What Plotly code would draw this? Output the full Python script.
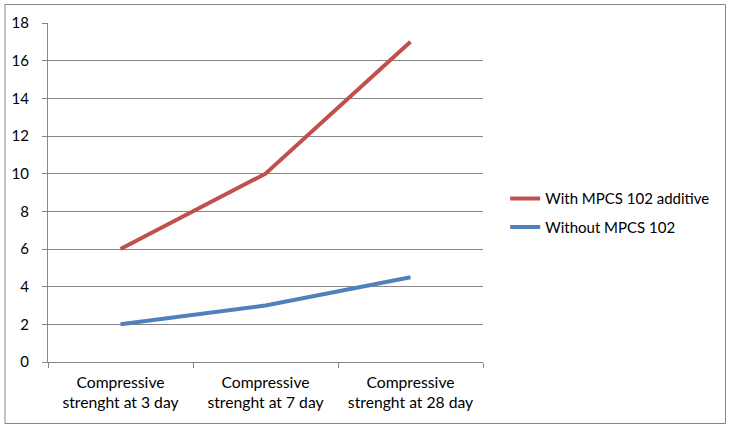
import plotly.graph_objects as go

categories = ["Compressive<br>strenght at 3 day",
              "Compressive<br>strenght at 7 day",
              "Compressive<br>strenght at 28 day"]
with_additive = [6, 10, 17]
without_additive = [2, 3, 4.5]
series_names = ["With MPCS 102 additive", "Without MPCS 102"]

GRID = "#868686"
FONT = dict(family="Lato, Liberation Sans, sans-serif", size=15, color="#000000")
XFONT = dict(family="Lato, Liberation Sans, sans-serif", size=15.7, color="#000000")

fig = go.Figure()
fig.add_trace(go.Scatter(x=categories, y=with_additive, mode="lines", name=series_names[0],
                         legendgroup="a", line=dict(color="#C0504D", width=4)))
fig.add_trace(go.Scatter(x=categories, y=without_additive, mode="lines", name=series_names[1],
                         legendgroup="b", line=dict(color="#4F81BD", width=4)))

fig.update_layout(
    width=731, height=428,
    margin=dict(l=48, r=248, t=23, b=66, pad=0),
    paper_bgcolor="white", plot_bgcolor="white",
    font=FONT,
    showlegend=True,
    legend=dict(x=1.051, y=0.44, xanchor="left", yanchor="middle",
                font=FONT, tracegroupgap=6, traceorder="grouped", itemwidth=30,
                bgcolor="rgba(0,0,0,0)"),
    xaxis=dict(type="category", range=[-0.5, 2.5], showline=True, linecolor=GRID, linewidth=1,
               ticks="outside", ticklen=5, tickcolor=GRID, tickson="boundaries",
               showgrid=False, zeroline=False, tickfont=XFONT, fixedrange=True,
               ticklabelstandoff=6),
    yaxis=dict(range=[0, 18], dtick=2, showline=True, linecolor=GRID, linewidth=1,
               ticks="outside", ticklen=5, tickcolor=GRID, showgrid=True, gridcolor=GRID,
               gridwidth=1, zeroline=False, tickfont=FONT, ticklabelstandoff=10,
               fixedrange=True),
    shapes=[dict(type="rect", xref="paper", yref="paper",
                 x0=(5 - 48) / 435, x1=(725.5 - 48) / 435,
                 y0=(362 - 423.5) / 339, y1=(362 - 4.5) / 339,
                 line=dict(color=GRID, width=1), fillcolor="rgba(0,0,0,0)", layer="below")],
)

fig.write_html("out.html", config={"displayModeBar": False},
               post_script="document.body.style.margin='0';document.body.style.overflow='hidden';")
